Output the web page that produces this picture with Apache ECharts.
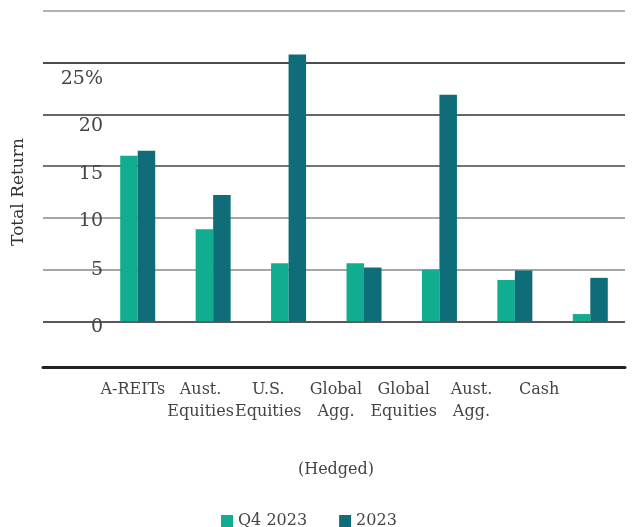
<!DOCTYPE html>
<html>
<head>
<meta charset="utf-8">
<script src="https://cdn.jsdelivr.net/npm/echarts@6/dist/echarts.min.js"></script>
<style>html,body{margin:0;padding:0;background:#fff}#c{width:636px;height:527px}</style>
</head>
<body>
<div id="c"></div>
<script>
var categories = ['A-REITs','Aust. Equities','U.S. Equities','Global Agg. (Hedged)','Global Equities','Aust. Agg.','Cash'];
var xTickLabels = ['A-REITs','Aust.\nEquities','U.S.\nEquities','Global\nAgg.\n{h|(Hedged)}','Global\nEquities','Aust.\nAgg.','Cash'];
var q42023 = [16.0, 8.9, 5.6, 5.6, 5.0, 4.0, 0.7];
var y2023 = [16.5, 12.2, 25.8, 5.2, 21.9, 4.9, 4.2];
var seriesNames = ['Q4 2023', '2023'];
var yTicks = [0, 5, 10, 15, 20, 25];
var yTickLabels = ['0', '5', '10', '15', '20', '25%'];

var FONT = 'DejaVu Serif';
var labelShift = {0: 6, 5: 0, 10: 3, 15: 8, 20: 12, 25: 16};
var rich = {};
yTicks.forEach(function (t) {
  rich['o' + t] = {padding: [2 * labelShift[t], 0, 0, 0], fontSize: 19, fontFamily: FONT, color: '#444'};
});

var chart = echarts.init(document.getElementById('c'), null, {renderer: 'canvas'});
var G = {top: 11, height: 362};
chart.setOption({
  animation: false,
  textStyle: {fontFamily: FONT},
  grid: [
    {left: 43, right: 11, top: G.top, height: G.height},
    {left: 100, right: 8, top: G.top, height: G.height},
    {left: 99, width: 474, top: G.top, height: G.height}
  ],
  legend: {
    data: seriesNames,
    left: 216, top: 508,
    icon: 'rect', itemWidth: 12, itemHeight: 12, itemGap: 32,
    textStyle: {fontFamily: FONT, fontSize: 16, color: '#444'}
  },
  xAxis: [
    {gridIndex: 0, type: 'category', data: categories, offset: -6,
     axisLine: {show: true, onZero: false, lineStyle: {color: '#222', width: 3}},
     axisTick: {show: false}, axisLabel: {show: false}, splitLine: {show: false}},
    {gridIndex: 1, type: 'category', data: categories,
     axisLine: {show: false}, axisTick: {show: false}, axisLabel: {show: false}},
    {gridIndex: 2, type: 'category', data: categories,
     axisLine: {show: false}, axisTick: {show: false},
     axisLabel: {show: true, interval: 0, margin: 6, lineHeight: 22, fontSize: 16, fontFamily: FONT, color: '#444',
       formatter: function (v, i) { return xTickLabels[i]; },
       rich: {h: {lineHeight: 94, fontSize: 16, fontFamily: FONT, color: '#444'}}}}
  ],
  yAxis: [
    {gridIndex: 0, type: 'value', min: -5, max: 30, interval: 5,
     name: 'Total Return', nameLocation: 'middle', nameRotate: 90, nameGap: 16,
     nameTextStyle: {fontFamily: FONT, fontSize: 17, color: '#333'},
     axisLine: {show: false}, axisTick: {show: false},
     axisLabel: {show: true, margin: -60, align: 'right',
       formatter: function (v) {
         var i = yTicks.indexOf(v);
         if (i < 0) return '';
         return '{o' + v + '|' + yTickLabels[i] + '}';
       },
       rich: rich},
     splitLine: {show: true, lineStyle: {width: 1.6,
       color: ['rgba(0,0,0,0)', '#222', '#888', '#888', '#444', '#333', '#111', '#999']}}},
    {gridIndex: 1, type: 'value', min: -5, max: 30, interval: 5, show: false, splitLine: {show: false}},
    {gridIndex: 2, type: 'value', min: -5, max: 30, interval: 5, show: false, splitLine: {show: false}}
  ],
  series: [
    {name: seriesNames[0], type: 'bar', xAxisIndex: 1, yAxisIndex: 1, data: q42023,
     barWidth: 17.5, barGap: '0%', itemStyle: {color: '#12AC91'}},
    {name: seriesNames[1], type: 'bar', xAxisIndex: 1, yAxisIndex: 1, data: y2023,
     barWidth: 17.5, barGap: '0%', itemStyle: {color: '#0E6D79'}}
  ]
});
</script>
</body>
</html>
